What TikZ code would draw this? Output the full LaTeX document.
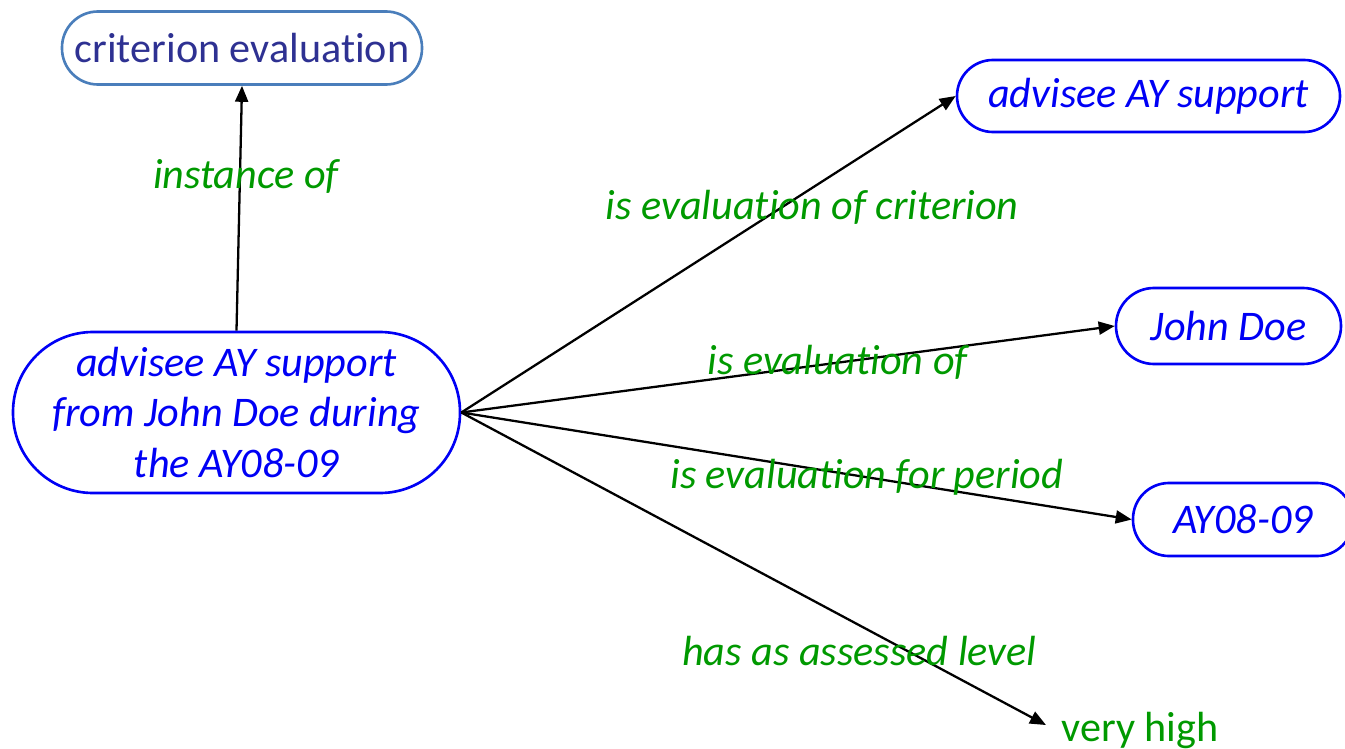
\documentclass[tikz,border=0pt]{standalone}
\usepackage{fontspec}
\setmainfont[Ligatures=NoCommon]{Carlito}
\usetikzlibrary{arrows.meta,positioning}

\definecolor{critline}{RGB}{74,126,187}
\definecolor{crittext}{RGB}{46,49,146}
\definecolor{conceptblue}{RGB}{0,0,245}
\definecolor{relgreen}{RGB}{0,153,0}

\begin{document}
\begin{tikzpicture}[
box/.style={draw=conceptblue, line width=1.5pt, rounded corners=0.72cm, minimum height=1.46cm, align=center, text=conceptblue, font=\fontsize{24}{29}\selectfont\itshape},
lbl/.style={text=relgreen, font=\fontsize{24}{29}\selectfont\itshape},
arrow/.style={-{Triangle[length=3.2mm,width=2.6mm]}, line width=1.3pt}
]
\useasboundingbox (0,0) rectangle (26.9,-14.98);

\node[box, draw=critline, text=crittext, font=\fontsize{24}{29}\selectfont, minimum width=7.2cm] (crit) at (4.84,-0.96) {criterion evaluation};
\node[box, minimum width=8.94cm, minimum height=3.22cm, rounded corners=1.6cm] (main) at (4.73,-8.25) {advisee AY support\\from John Doe during\\the AY08-09};
\node[box, minimum width=7.66cm, minimum height=1.44cm] (advsup) at (22.97,-1.92) {advisee AY support};
\node[box, minimum width=4.5cm, minimum height=1.52cm, rounded corners=0.76cm] (john) at (24.57,-6.52) {John Doe};
\node[box, minimum width=4.4cm] (period) at (24.86,-10.39) {AY08-09};
\node[text=relgreen, font=\fontsize{24}{29}\selectfont] (level) at (22.8,-14.6) {very high};

\draw[arrow] (main.north) -- node[lbl, pos=0.63, xshift=0.12cm] {instance of} (crit.south);
\draw[arrow] (main.east) -- node[lbl, pos=0.71, yshift=-0.4cm] {is evaluation of criterion} (advsup.west);
\draw[arrow] (main.east) -- node[lbl, pos=0.576] {is evaluation of} (john.west);
\draw[arrow] (main.east) -- node[lbl, pos=0.605] {is evaluation for period} (period.west);
\draw[arrow, shorten >=6pt] (main.east) -- node[lbl, pos=0.67, yshift=-0.52cm] {has as assessed level} (level.west);
\end{tikzpicture}
\end{document}
